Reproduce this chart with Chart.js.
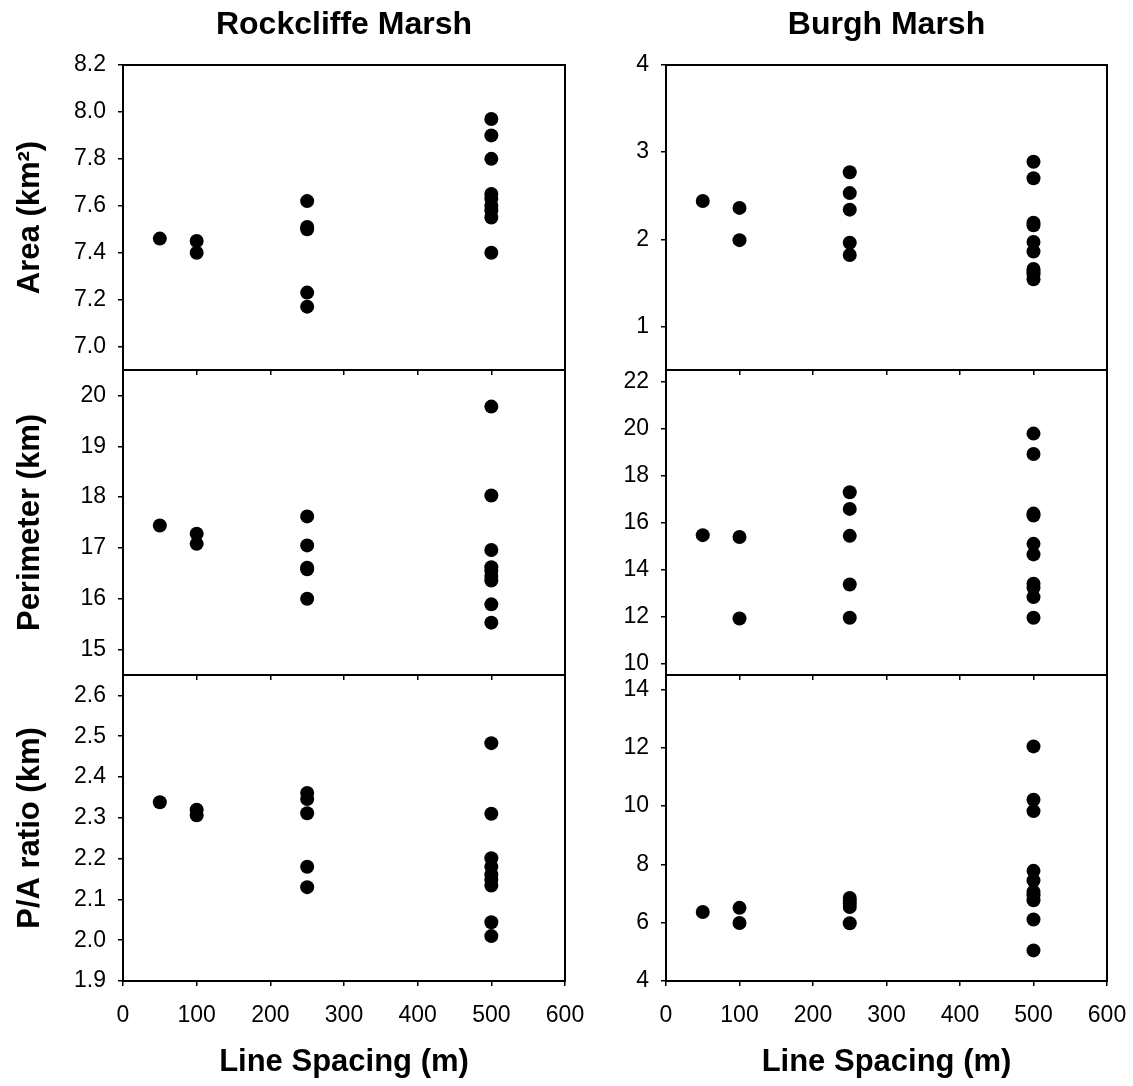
<!DOCTYPE html>
<html>
<head>
<meta charset="utf-8">
<script src="https://cdn.jsdelivr.net/npm/chart.js@4.4.1/dist/chart.umd.min.js"></script>
<style>
  body { margin: 0; background: #fff; }
  #page { position: relative; width: 1133px; height: 1086px; overflow: hidden; }
  .panel { position: absolute; }
</style>
</head>
<body>
<div id="page"></div>
<script>
// line spacing (m) for every transect set
const rockSpacing = [50, 100, 100, 250, 250, 250, 250, 250, 500, 500, 500, 500, 500, 500, 500, 500, 500]
const burghSpacing = [50, 100, 100, 250, 250, 250, 250, 250, 500, 500, 500, 500, 500, 500, 500, 500, 500, 500]

// Rockcliffe Marsh
const rockArea = [7.46, 7.45, 7.40, 7.62, 7.51, 7.50, 7.23, 7.17, 7.97, 7.90, 7.80, 7.65, 7.63, 7.60, 7.58, 7.55, 7.40]
const rockPerimeter = [17.44, 17.28, 17.08, 17.62, 17.05, 16.61, 16.58, 16.00, 19.78, 18.03, 16.96, 16.62, 16.55, 16.45, 16.36, 15.89, 15.53]
const rockRatio = [2.338, 2.320, 2.306, 2.361, 2.346, 2.311, 2.180, 2.130, 2.483, 2.310, 2.201, 2.180, 2.161, 2.148, 2.134, 2.044, 2.010]

// Burgh Marsh
const burghArea = [2.44, 2.36, 1.99, 2.77, 2.53, 2.34, 1.96, 1.82, 2.89, 2.70, 2.19, 2.16, 1.97, 1.86, 1.66, 1.63, 1.60, 1.54]
const burghPerimeter = [15.46, 15.38, 11.91, 17.29, 16.58, 15.43, 13.36, 11.94, 19.79, 18.92, 16.38, 16.30, 15.09, 14.64, 13.39, 13.22, 12.82, 11.94]
const burghRatio = [6.37, 6.51, 5.99, 6.85, 6.75, 6.65, 6.54, 5.98, 12.05, 10.22, 9.83, 7.78, 7.45, 7.06, 6.94, 6.77, 6.11, 5.05]

// tick labels and axis ranges
const spacingTicks = [0, 100, 200, 300, 400, 500, 600]
const rockAreaTicks = [7.0, 7.2, 7.4, 7.6, 7.8, 8.0, 8.2]
const rockPerimeterTicks = [15, 16, 17, 18, 19, 20]
const rockRatioTicks = [1.9, 2.0, 2.1, 2.2, 2.3, 2.4, 2.5, 2.6]
const burghAreaTicks = [1, 2, 3, 4]
const burghPerimeterTicks = [10, 12, 14, 16, 18, 20, 22]
const burghRatioTicks = [4, 6, 8, 10, 12, 14]
const rockAreaRange = [6.9, 8.2]
const rockPerimeterRange = [14.5, 20.5]
const rockRatioRange = [1.9, 2.65]
const burghAreaRange = [0.5, 4]
const burghPerimeterRange = [9.5, 22.5]
const burghRatioRange = [4, 14.5]

const FONT = "'Liberation Sans', Arial, sans-serif"
const plotLeft = [123, 666], plotRight = [565, 1107]
const rowTop = [65, 370, 675], rowBottom = [370, 675, 981]
const axisWidth = [123, 90]

const boxPlugin = {
  id: 'box',
  afterDraw(chart) {
    const a = chart.chartArea, ctx = chart.ctx
    ctx.save()
    ctx.strokeStyle = '#000'
    ctx.lineWidth = 2
    ctx.strokeRect(a.left, a.top, a.right - a.left, a.bottom - a.top)
    ctx.restore()
  }
}

function panel(col, row, xs, ys, range, ticks, decimals, yTitle, title) {
  const isBottom = row == 2
  const xH = isBottom ? 100 : 8
  const topPad = row == 0 ? 0 : 16
  const left = plotLeft[col] - axisWidth[col]
  const top = rowTop[row] - (row == 0 ? 65 : topPad)
  const width = plotRight[col] + 26 - left
  const height = rowBottom[row] + xH - top

  const div = document.createElement('div')
  div.className = 'panel'
  div.style.cssText = `left:${left}px;top:${top}px;width:${width}px;height:${height}px`
  const cv = document.createElement('canvas')
  div.appendChild(cv)
  document.getElementById('page').appendChild(div)

  new Chart(cv, {
    type: 'scatter',
    data: {
      datasets: [{
        data: xs.map((x, i) => ({x: x, y: ys[i]})),
        backgroundColor: '#000',
        borderWidth: 0,
        pointRadius: 7,
        pointHoverRadius: 7
      }]
    },
    options: {
      responsive: true,
      maintainAspectRatio: false,
      animation: false,
      events: [],
      layout: { padding: { top: topPad, right: 26, left: 0, bottom: 0 } },
      plugins: {
        legend: { display: false },
        tooltip: { enabled: false },
        title: {
          display: !!title,
          text: title,
          fullSize: false,
          color: '#000',
          font: { family: FONT, size: 32, weight: 'bold' },
          padding: { top: 6, bottom: 20.6 }
        }
      },
      scales: {
        x: {
          type: 'linear',
          min: 0, max: 600,
          afterBuildTicks: s => { s.ticks = spacingTicks.map(v => ({value: v})) },
          afterFit: s => { s.height = xH; s.paddingLeft = 0; s.paddingRight = 0 },
          border: { display: false },
          grid: { drawOnChartArea: false, drawTicks: true, tickLength: 5, color: '#000', lineWidth: 1.5 },
          ticks: { display: isBottom, color: '#000', padding: 16, font: { family: FONT, size: 23 } },
          title: {
            display: isBottom,
            text: 'Line Spacing (m)',
            color: '#000',
            padding: { top: 0, bottom: 0 },
            font: { family: FONT, size: 31, weight: 'bold' }
          }
        },
        y: {
          type: 'linear',
          min: range[0], max: range[1],
          afterBuildTicks: s => { s.ticks = ticks.map(v => ({value: v})) },
          afterFit: s => { s.width = axisWidth[col]; s.paddingTop = 0; s.paddingBottom = 0 },
          border: { display: false },
          grid: { drawOnChartArea: false, drawTicks: true, tickLength: 5, color: '#000', lineWidth: 1.5 },
          ticks: {
            color: '#000', padding: 12,
            font: { family: FONT, size: 23 },
            callback: v => v.toFixed(decimals)
          },
          title: {
            display: !!yTitle,
            text: yTitle,
            color: '#000',
            padding: { top: 12, bottom: 0 },
            font: { family: FONT, size: 31, weight: 'bold' }
          }
        }
      }
    },
    plugins: [boxPlugin]
  })
}

panel(0, 0, rockSpacing, rockArea, rockAreaRange, rockAreaTicks, 1, 'Area (km²)', 'Rockcliffe Marsh')
panel(0, 1, rockSpacing, rockPerimeter, rockPerimeterRange, rockPerimeterTicks, 0, 'Perimeter (km)')
panel(0, 2, rockSpacing, rockRatio, rockRatioRange, rockRatioTicks, 1, 'P/A ratio (km)')
panel(1, 0, burghSpacing, burghArea, burghAreaRange, burghAreaTicks, 0, '', 'Burgh Marsh')
panel(1, 1, burghSpacing, burghPerimeter, burghPerimeterRange, burghPerimeterTicks, 0, '')
panel(1, 2, burghSpacing, burghRatio, burghRatioRange, burghRatioTicks, 0, '')
</script>
</body>
</html>
